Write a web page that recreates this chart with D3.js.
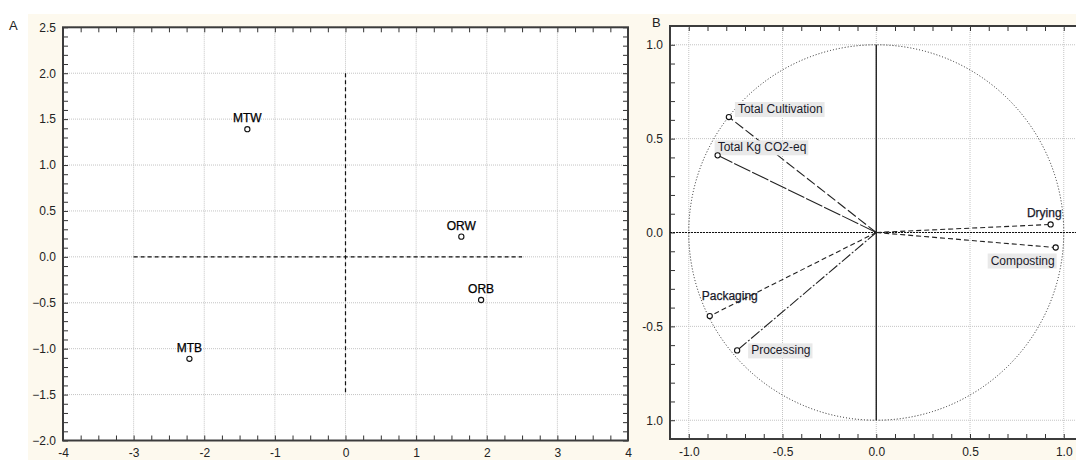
<!DOCTYPE html>
<html><head><meta charset="utf-8">
<script src="https://cdn.jsdelivr.net/npm/d3@7"></script>
<style>
body{margin:0;background:#fff;}
text{font-family:"Liberation Sans",Arial,sans-serif;}
</style></head>
<body>
<svg id="c" width="1076" height="460"></svg>
<script>
// ---- data ----
const scoreLabels = ["MTW","MTB","ORW","ORB"];
const scoreX = [-1.39, -2.21, 1.64, 1.92];
const scoreY = [1.39, -1.11, 0.22, -0.47];

const loadingLabels = ["Total Cultivation","Total Kg CO2-eq","Packaging","Processing","Drying","Composting"];
const loadingX = [-0.786, -0.846, -0.888, -0.742, 0.93, 0.957];
const loadingY = [0.615, 0.411, -0.445, -0.628, 0.043, -0.08];

const xTicksA = [-4,-3,-2,-1,0,1,2,3,4];
const yTicksA = [-2.0,-1.5,-1.0,-0.5,0.0,0.5,1.0,1.5,2.0,2.5];
const xTicksB = [-1.0,-0.5,0.0,0.5,1.0];
const xTickLabelsB = ["-1.0","-0.5","0.0","0.5","1.0"];
const yTicksB = [1.0,0.5,0.0,-0.5,-1.0];
const yTickLabelsB = ["1.0","0.5","0.0","-0.5","1.0"];

// ---- layout / style (not data) ----
const labelLayout = {
  "Total Cultivation": {dx:9, dy:-4, anchor:"start", box:true, dash:"10,3"},
  "Total Kg CO2-eq":   {dx:0, dy:-4, anchor:"start", box:true, dash:"18,2"},
  "Packaging":         {dx:-8, dy:-16, anchor:"start", box:false, dash:"5,3"},
  "Processing":        {dx:14, dy:4, anchor:"start", box:true, dash:"11,2,2,2"},
  "Drying":            {dx:11, dy:-7, anchor:"end", box:false, dash:"5,3"},
  "Composting":        {dx:-1, dy:17, anchor:"end", box:true, dash:"5,3"}
};

const svg = d3.select("#c");
svg.append("rect").attr("x",28).attr("y",14).attr("width",1048).attr("height",446).attr("fill","#fdf9ee");

function minorTicks(lo, hi, step){
  const out=[]; const n=Math.round((hi-lo)/step);
  for(let i=0;i<=n;i++) out.push(+(lo+i*step).toFixed(6));
  return out;
}

function panel(opts){
  const {x, y, xMajor, yMajor, xMinorStep, yMinorStep, xFmt, yFmt} = opts;
  const [x0,x1]=x.range(), [y0,y1]=y.range();
  const g = svg.append("g");
  g.append("rect").attr("x",x0).attr("y",y1).attr("width",x1-x0).attr("height",y0-y1).attr("fill","#fff");
  g.selectAll(".gx").data(xMajor).join("line")
    .attr("x1",d=>x(d)).attr("x2",d=>x(d)).attr("y1",y1).attr("y2",y0)
    .attr("stroke","#c4c4c4").attr("stroke-width",1).attr("stroke-dasharray","1,1");
  g.selectAll(".gy").data(yMajor).join("line")
    .attr("y1",d=>y(d)).attr("y2",d=>y(d)).attr("x1",x0).attr("x2",x1)
    .attr("stroke","#c4c4c4").attr("stroke-width",1).attr("stroke-dasharray","1,1");
  const xm = minorTicks(x.domain()[0], x.domain()[1], xMinorStep);
  const ym = minorTicks(y.domain()[0], y.domain()[1], yMinorStep);
  const tickStyle = s=>s.attr("stroke","#333").attr("stroke-width",1);
  g.append("g").attr("transform",`translate(0,${y0})`).call(d3.axisBottom(x).tickValues(xm).tickSize(-5).tickFormat(""))
    .call(a=>{a.select(".domain").remove(); tickStyle(a.selectAll("line"));});
  g.append("g").attr("transform",`translate(0,${y1})`).call(d3.axisTop(x).tickValues(xm).tickSize(-5).tickFormat(""))
    .call(a=>{a.select(".domain").remove(); tickStyle(a.selectAll("line"));});
  g.append("g").attr("transform",`translate(${x0},0)`).call(d3.axisLeft(y).tickValues(ym).tickSize(-5).tickFormat(""))
    .call(a=>{a.select(".domain").remove(); tickStyle(a.selectAll("line"));});
  g.append("g").attr("transform",`translate(${x1},0)`).call(d3.axisRight(y).tickValues(ym).tickSize(-5).tickFormat(""))
    .call(a=>{a.select(".domain").remove(); tickStyle(a.selectAll("line"));});
  g.append("g").attr("transform",`translate(0,${y0})`)
    .call(d3.axisBottom(x).tickValues(xMajor).tickSize(0).tickPadding(opts.xPad).tickFormat(xFmt))
    .call(a=>{a.select(".domain").remove(); a.selectAll("text").attr("font-size",12).attr("fill","#222").style("font-family","Liberation Sans, Arial, sans-serif");});
  g.append("g").attr("transform",`translate(${x0},0)`)
    .call(d3.axisLeft(y).tickValues(yMajor).tickSize(0).tickPadding(7).tickFormat(yFmt))
    .call(a=>{a.select(".domain").remove(); a.selectAll("text").attr("font-size",12).attr("fill","#222").style("font-family","Liberation Sans, Arial, sans-serif");});
  g.append("rect").attr("x",x0).attr("y",y1).attr("width",x1-x0).attr("height",y0-y1)
    .attr("fill","none").attr("stroke","#3c3c3c").attr("stroke-width",2);
  return g;
}

// ---- Panel A ----
const xA = d3.scaleLinear().domain([-4,4]).range([63,628]);
const yA = d3.scaleLinear().domain([-2,2.5]).range([440.5,27.3]);
const gA = panel({x:xA, y:yA, xMajor:xTicksA, yMajor:yTicksA, xMinorStep:0.25, yMinorStep:0.1,
  xFmt:d=>String(d), yFmt:d3.format(".1f"), xPad:8});
gA.append("line").attr("x1",xA(-3)).attr("x2",xA(2.5)).attr("y1",yA(0)).attr("y2",yA(0))
  .attr("stroke","#111").attr("stroke-width",1.2).attr("stroke-dasharray","4,3");
gA.append("line").attr("x1",xA(0)).attr("x2",xA(0)).attr("y1",yA(2.0)).attr("y2",yA(-1.5))
  .attr("stroke","#111").attr("stroke-width",1.2).attr("stroke-dasharray","4,3");
const ptsA = scoreLabels.map((l,i)=>({l, x:scoreX[i], y:scoreY[i]}));
gA.selectAll(".pa").data(ptsA).join("circle")
  .attr("cx",d=>xA(d.x)).attr("cy",d=>yA(d.y)).attr("r",2.6)
  .attr("fill","#fff").attr("stroke","#111").attr("stroke-width",1.1);
gA.selectAll(".la").data(ptsA).join("text")
  .attr("x",d=>xA(d.x)).attr("y",d=>yA(d.y)-7).attr("text-anchor","middle")
  .attr("font-size",12).attr("fill","#000").attr("stroke","#000").attr("stroke-width",0.25).text(d=>d.l);
svg.append("text").attr("x",9).attr("y",30).attr("font-size",13).attr("fill","#222").text("A");

// ---- Panel B ----
const xB = d3.scaleLinear().domain([-1.1,1.1]).range([670,1082.5]);
const yB = d3.scaleLinear().domain([-1.1,1.1]).range([439,26]);
const gB = panel({x:xB, y:yB, xMajor:xTicksB, yMajor:yTicksB, xMinorStep:0.1, yMinorStep:0.1,
  xFmt:(d,i)=>xTickLabelsB[i], yFmt:(d,i)=>yTickLabelsB[i], xPad:8});
gB.append("ellipse").attr("cx",xB(0)).attr("cy",yB(0))
  .attr("rx",xB(1)-xB(0)).attr("ry",yB(0)-yB(1))
  .attr("fill","none").attr("stroke","#222").attr("stroke-width",1).attr("stroke-dasharray","1,2");
gB.append("line").attr("x1",xB(-1.1)).attr("x2",xB(1.1)).attr("y1",yB(0)).attr("y2",yB(0))
  .attr("stroke","#111").attr("stroke-width",1.2).attr("stroke-dasharray","2,1");
gB.append("line").attr("x1",xB(0)).attr("x2",xB(0)).attr("y1",yB(1)).attr("y2",yB(-1))
  .attr("stroke","#111").attr("stroke-width",1.3);
const ptsB = loadingLabels.map((l,i)=>({l, x:loadingX[i], y:loadingY[i], ...labelLayout[l]}));
gB.selectAll(".vb").data(ptsB).join("line")
  .attr("x1",xB(0)).attr("y1",yB(0)).attr("x2",d=>xB(d.x)).attr("y2",d=>yB(d.y))
  .attr("stroke","#222").attr("stroke-width",1.1).attr("stroke-dasharray",d=>d.dash);
const lblG = gB.append("g");
ptsB.forEach(d=>{
  const t = lblG.append("text").attr("x",xB(d.x)+d.dx).attr("y",yB(d.y)+d.dy)
    .attr("text-anchor",d.anchor).attr("font-size",12).attr("fill","#1a1a2a").text(d.l);
  if(!d.box) t.attr("stroke","#1a1a2a").attr("stroke-width",0.25);
  if(d.box){
    const bb = t.node().getBBox();
    lblG.insert("rect","text").attr("x",bb.x-3).attr("y",bb.y).attr("width",bb.width+5).attr("height",bb.height+1)
      .attr("fill","#e9e9e9");
  }
});
lblG.selectAll("text").raise();
gB.selectAll(".pb").data(ptsB).join("circle")
  .attr("cx",d=>xB(d.x)).attr("cy",d=>yB(d.y)).attr("r",2.6)
  .attr("fill","#fff").attr("stroke","#111").attr("stroke-width",1.1);
svg.append("text").attr("x",652).attr("y",27).attr("font-size",13).attr("fill","#222").text("B");
</script>
</body></html>
